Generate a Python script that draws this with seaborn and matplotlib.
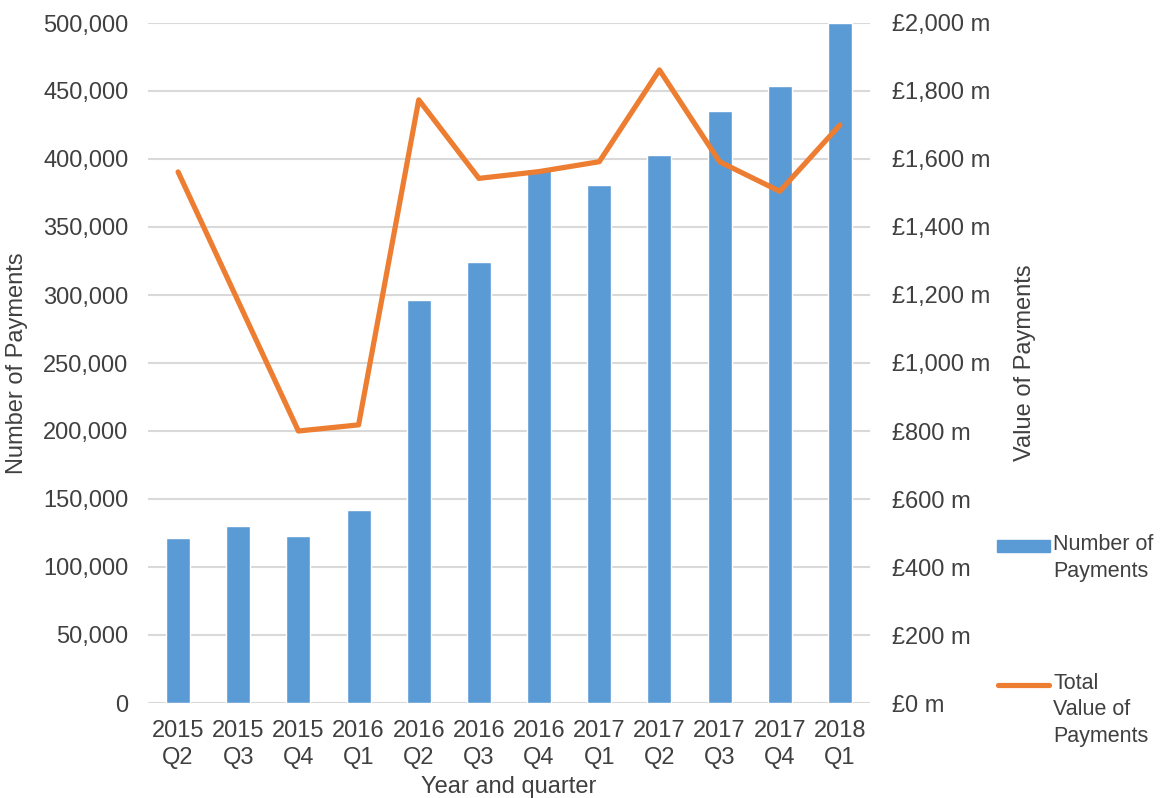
import pandas as pd
import seaborn as sns
import matplotlib.pyplot as plt
from matplotlib.lines import Line2D
from matplotlib.patches import Rectangle
from matplotlib.ticker import FuncFormatter, MultipleLocator

quarters = ["2015\nQ2", "2015\nQ3", "2015\nQ4", "2016\nQ1", "2016\nQ2", "2016\nQ3",
            "2016\nQ4", "2017\nQ1", "2017\nQ2", "2017\nQ3", "2017\nQ4", "2018\nQ1"]
num_payments = [121000, 130000, 123000, 142000, 296000, 324000,
                393000, 381000, 403000, 435000, 454000, 500000]
value_payments = [1562, 1181, 800, 818, 1774, 1543,
                  1563, 1592, 1862, 1592, 1505, 1700]

df = pd.DataFrame({"quarter": quarters, "count": num_payments, "value": value_payments})

bar_col = "#5B9BD5"
line_col = "#ED7D31"
text_col = "#404040"
fs = 17

sns.set_style("white")
plt.rcParams['font.family'] = ['Liberation Sans', 'DejaVu Sans']

fig = plt.figure(figsize=(11.62, 7.98), dpi=100)
ax = fig.add_axes([148 / 1162, 95 / 798, 722 / 1162, 680 / 798])

sns.barplot(data=df, x="quarter", y="count", color=bar_col, saturation=1,
            width=0.4, ax=ax)
ax.set_ylim(0, 500000)
ax.yaxis.set_major_locator(MultipleLocator(50000))
ax.yaxis.set_major_formatter(FuncFormatter(lambda v, p: f"{int(v):,}"))
ax.grid(axis="y", color="#D9D9D9", linewidth=1.5)
ax.set_axisbelow(True)
ax.set_xlim(-0.5, 11.5)

ax2 = ax.twinx()
sns.lineplot(data=df, x="quarter", y="value", color=line_col, linewidth=3.75,
             sort=False, ax=ax2)
ax2.lines[0].set_solid_capstyle("round")
ax2.set_ylim(0, 2000)
ax2.yaxis.set_major_locator(MultipleLocator(200))
ax2.yaxis.set_major_formatter(FuncFormatter(lambda v, p: f"£{int(v):,} m"))

for a in (ax, ax2):
    sns.despine(ax=a, left=True, right=True, top=True, bottom=True)
    a.tick_params(length=0, labelsize=fs, colors=text_col)
ax.tick_params(axis="y", pad=14)
ax2.tick_params(axis="y", pad=16)
ax.tick_params(axis="x", pad=12)
for t in ax.get_xticklabels():
    t.set_linespacing(1.33)

ax.set_xlabel("Year and quarter", fontsize=fs, color=text_col)
ax.xaxis.set_label_coords(0.5, -0.108)
ax.set_ylabel("Number of Payments", fontsize=fs, color=text_col)
ax.yaxis.set_label_coords(-0.166, 0.5)
ax2.set_ylabel("Value of Payments", fontsize=fs, color=text_col)
ax2.yaxis.set_label_coords(1.199, 0.5)

# legend, drawn like the spreadsheet one: handle level with the first text line
W, H = 1162, 798
lfs = 15.5
fig.add_artist(Rectangle((997 / W, 1 - 552 / H), 53 / W, 12 / H,
                         transform=fig.transFigure, color=bar_col))
fig.add_artist(Line2D([998 / W, 1049 / W], [1 - 685 / H, 1 - 685 / H],
                      transform=fig.transFigure, color=line_col,
                      linewidth=3.75, solid_capstyle="round"))
fig.text(1053 / W, 1 - 577 / H, "Number of\nPayments", fontsize=lfs,
         color=text_col, va="baseline", linespacing=1.35)
fig.text(1053 / W, 1 - 742 / H, "Total\nValue of\nPayments", fontsize=lfs,
         color=text_col, va="baseline", linespacing=1.35)

fig.savefig("out.png", dpi=100)
